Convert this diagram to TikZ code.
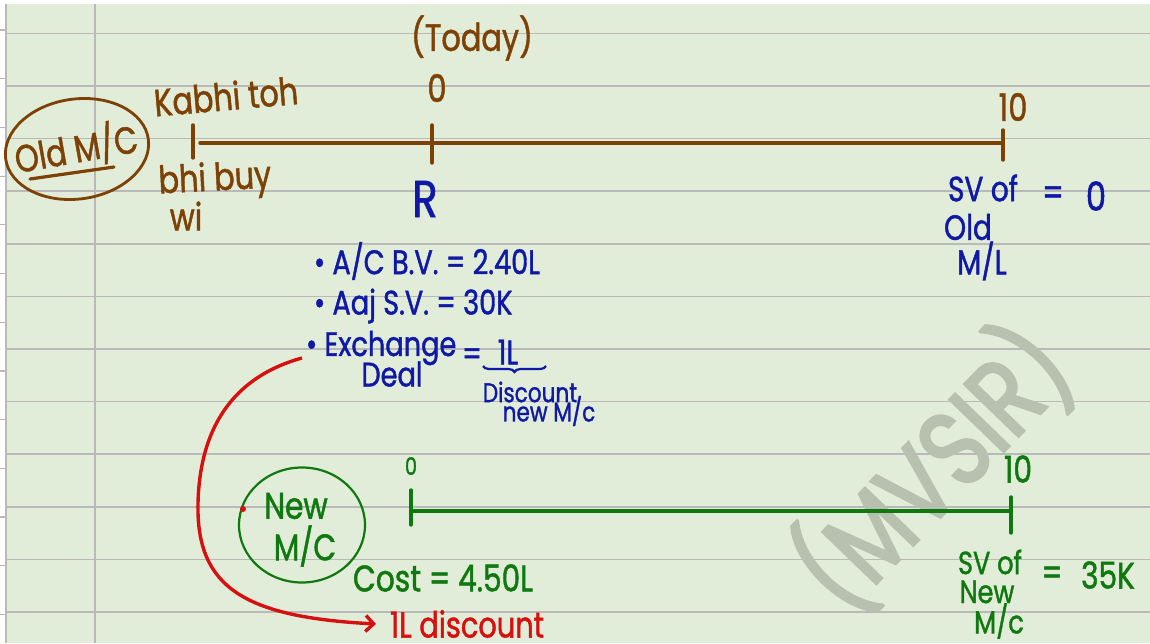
\documentclass[tikz,border=0pt]{standalone}
\usepackage{fontspec}
\setmainfont{Poppins}[FakeStretch=0.8,FakeBold=1.2]
\newfontfamily\wmfont{Poppins}[FakeStretch=0.8,FakeBold=2.5]
\usetikzlibrary{arrows.meta,shapes.geometric,decorations.pathreplacing}
\definecolor{paper}{RGB}{225,237,216}
\definecolor{rulec}{RGB}{185,185,185}
\definecolor{brn}{RGB}{125,65,5}
\definecolor{blu}{RGB}{15,25,165}
\definecolor{grn}{RGB}{15,120,15}
\definecolor{rd}{RGB}{215,15,15}
\definecolor{wm}{RGB}{184,193,176}
\begin{document}
\begin{tikzpicture}[x=1pt,y=-1pt,
  every node/.style={inner sep=0pt,outer sep=0pt},
  tb/.style={text=brn,font=\fontsize{38}{40}\selectfont},
  tu/.style={text=blu,font=\fontsize{34}{36}\selectfont},
  tus/.style={text=blu,font=\fontsize{27}{29}\selectfont},
  tub/.style={text=blu,font=\fontsize{35}{37}\selectfont},
  tg/.style={text=grn,font=\fontsize{37}{39}\selectfont},
  tgs/.style={text=grn,font=\fontsize{32}{34}\selectfont},
  tr/.style={text=rd,font=\fontsize{36}{38}\selectfont},
  rl/.style={draw=rulec,line width=1.6pt},
  tline/.style={line width=3.4pt,line cap=round}]
\path[use as bounding box] (0,0) rectangle (1150,643);
\clip (0,0) rectangle (1150,643);
% paper
\fill[white] (0,0) rectangle (1150,643);
\fill[paper] (7,4) rectangle (1150,643);
\foreach \k in {0,...,11}{\draw[rl] (7,33.5+52.58*\k) -- (1150,33.5+52.58*\k);}
\draw[rl] (95,4) -- (95,643);
\draw[rl] (6,4) -- (6,643);
\foreach \k in {0,...,13}{\draw[rl,line width=1.2pt] (0,30+48.7*\k) -- (6,30+48.7*\k);}
% watermark
\node[rotate=46,text=wm,font=\wmfont\fontsize{108}{108}\selectfont] (wmark) at (932,468) {(MVSIR)};
% ---------- old machine (brown)
\node[draw=brn,line width=2.8pt,ellipse,minimum width=144pt,minimum height=100pt,rotate=8] (oldmc) at (77,149) {};
\node[tb,rotate=10] (oldt) at (76,148) {Old M/C};
\draw[brn,line width=3.2pt,line cap=round] (30,179) -- (114,167);
\coordinate (ob) at (193,143);
\coordinate (o0) at (432,143);
\coordinate (o10) at (1003,143);
\draw[brn,tline] ([xshift=7pt]ob) -- (o10);
\draw[brn,tline] ([yshift=18pt]ob) -- ([yshift=-15pt]ob);
\draw[brn,tline] ([yshift=18pt]o0) -- ([yshift=-20pt]o0);
\draw[brn,tline] ([yshift=13pt]o10) -- ([yshift=-17pt]o10);
\node[tb,rotate=5] (kabhi) at (226,96) {Kabhi toh};
\node[tb,rotate=3] (bhibuy) at (215,181) {bhi buy};
\node[tb] (wi) at (186,216) {wi};
\node[tb] (today) at (472,38) {(Today)};
\node[tb] (zero) at (437,88) {0};
\node[tb] (ten) at (1013,107) {10};
% ---------- blue notes
\node[text=blu,font=\fontsize{52}{54}\selectfont] (r) at (425,199) {R};
\node[tu,anchor=west] (bv) at (314,261) {\textbullet\ A/C B.V. = 2.40L};
\node[tu,anchor=west] (sv) at (314,306) {\textbullet\ Aaj S.V. = 30K};
\node[tu,anchor=west] (ex) at (306,348) {\textbullet\ Exchange};
\node[tu] (deal) at (392,374) {Deal};
\node[tu] (eq1) at (472,357) {=};
\node[tu] (onel) at (508,352) {1L};
\draw[blu,line width=2.2pt,decorate,decoration={brace,mirror,amplitude=6pt}] (483,366) -- (546,366);
\node[tus] (disc) at (530,392) {Discount};
\node[tus] (newmcb) at (549,411) {new M/c};
\node[tub] (svof) at (983,188) {SV of};
\node[tub] (oldl) at (968,227) {Old};
\node[tub] (ml) at (982,261) {M/L};
\node[text=blu,font=\fontsize{38}{40}\selectfont] (eq0) at (1053,196) {=};
\node[text=blu,font=\fontsize{40}{42}\selectfont] (zz) at (1096,196) {0};
% ---------- new machine (green)
\coordinate (n0) at (411,511);
\coordinate (n10) at (1011,511);
\draw[grn,tline] (n0) -- (n10);
\draw[grn,tline] ([yshift=21pt]n0) -- ([yshift=-14pt]n0);
\draw[grn,tline] ([yshift=14pt]n10) -- ([yshift=-22pt]n10);
\node[text=grn,font=\fontsize{24}{26}\selectfont] (g0) at (411,466) {0};
\node[tg] (g10) at (1018,469) {10};
\node[draw=grn,line width=2.2pt,ellipse,minimum width=126pt,minimum height=115pt] (newc) at (302,525) {};
\node[tg] (newt) at (296,506) {New};
\node[tg] (mct) at (305,546) {M/C};
\node[tg] (cost) at (443,578) {Cost = 4.50L};
\node[tgs] (gsv) at (990,562) {SV of};
\node[tgs] (gnew) at (987,592) {New};
\node[tgs] (gmc) at (999,621) {M/c};
\node[tg] (geq) at (1052,576) {=};
\node[tg] (g35) at (1108,575) {35K};
% ---------- red arrow
\node[tr,anchor=west] (disc1) at (390,624) {1L discount};
\coordinate (rs) at (302,358);
\node[circle,fill=rd,minimum size=6pt] (rdot) at (243,509) {};
\draw[rd,line width=3.4pt,-{Straight Barb[length=8pt,width=16pt,line width=3.4pt]}]
  (rs) .. controls (240,375) and (200,420) .. (198,503)
  .. controls (196,588) and (245,617) .. ([xshift=-14pt]disc1.west);
\end{tikzpicture}
\end{document}
